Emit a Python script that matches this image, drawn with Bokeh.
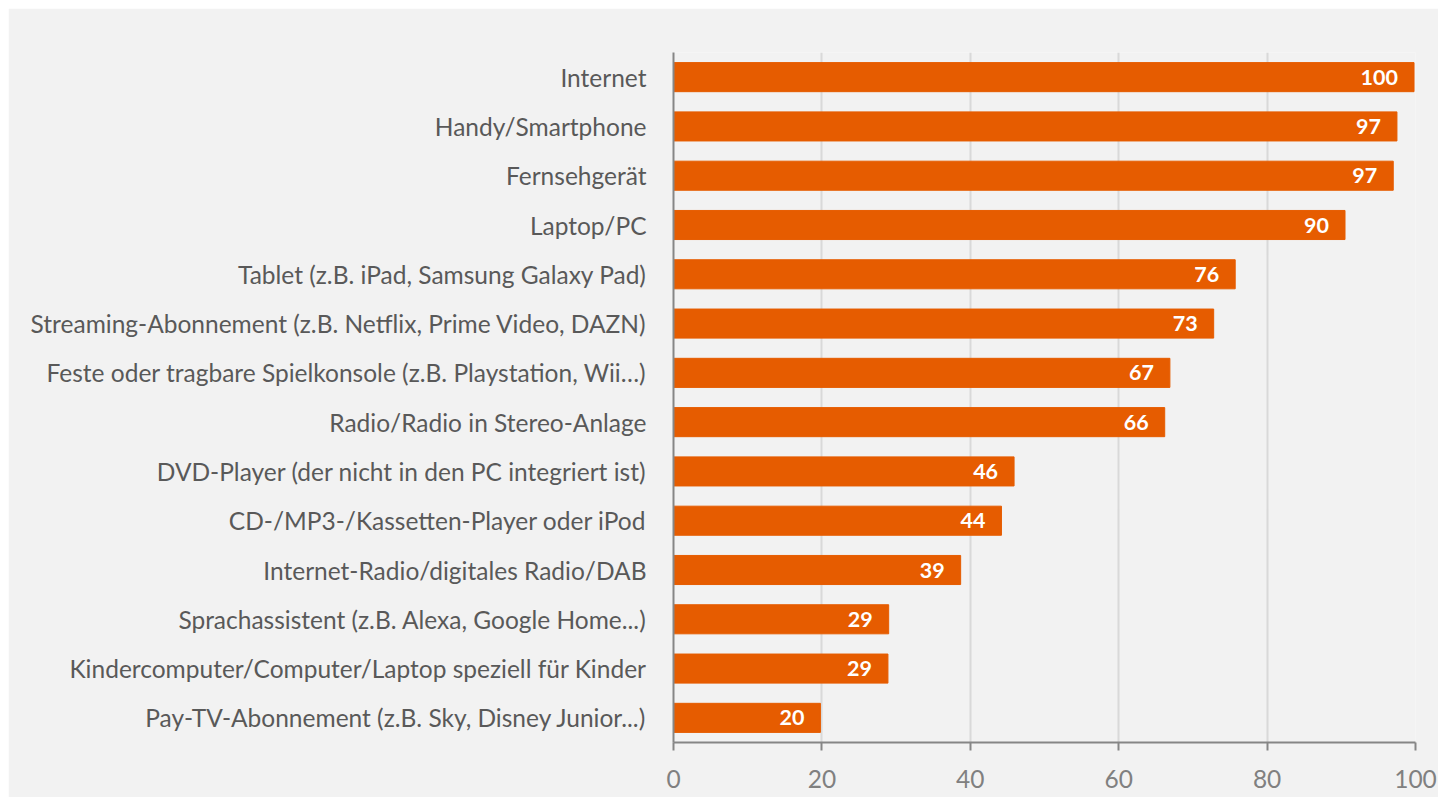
from bokeh.plotting import figure
from bokeh.models import ColumnDataSource, FactorRange, FixedTicker
from bokeh.core.properties import value
from bokeh.embed import file_html
from bokeh.resources import INLINE

categories = [
    "Internet",
    "Handy/Smartphone",
    "Fernsehgerät",
    "Laptop/PC",
    "Tablet (z.B. iPad, Samsung Galaxy Pad)",
    "Streaming-Abonnement (z.B. Netflix, Prime Video, DAZN)",
    "Feste oder tragbare Spielkonsole (z.B. Playstation, Wii…)",
    "Radio/Radio in Stereo-Anlage",
    "DVD-Player (der nicht in den PC integriert ist)",
    "CD-/MP3-/Kassetten-Player oder iPod",
    "Internet-Radio/digitales Radio/DAB",
    "Sprachassistent (z.B. Alexa, Google Home...)",
    "Kindercomputer/Computer/Laptop speziell für Kinder",
    "Pay-TV-Abonnement (z.B. Sky, Disney Junior...)",
]
values = [99.8, 97.5, 97.0, 90.5, 75.7, 72.8, 66.9, 66.2, 45.9, 44.2, 38.7, 29.0, 28.9, 19.8]
labels = ["100", "97", "97", "90", "76", "73", "67", "66", "46", "44", "39", "29", "29", "20"]
x_ticks = [0, 20, 40, 60, 80, 100]

src = ColumnDataSource(dict(cat=categories, val=values, lab=labels))

p = figure(
    width=1430, height=789,
    y_range=FactorRange(*list(reversed(categories))),
    x_range=(0, 100),
    output_backend="svg", toolbar_location=None,
    min_border_left=665, min_border_right=23, min_border_top=44, min_border_bottom=55,
    background_fill_color="#f2f2f2", border_fill_color="#f2f2f2",
)
p.margin = (8, 0, 0, 8)
p.outline_line_color = None

p.hbar(y="cat", right="val", left=0, height=0.59, color="#e65c00", source=src)
p.text(x="val", y="cat", text="lab", source=src, x_offset=-16,
       text_align="right", text_baseline="middle", text_color="white",
       text_font=value("Lato"), text_font_style="bold", text_font_size="21.5px")

p.xaxis.ticker = FixedTicker(ticks=x_ticks)
p.xaxis.axis_line_color = "#868686"
p.xaxis.axis_line_width = 2
p.xaxis.major_tick_line_color = "#868686"
p.xaxis.major_tick_line_width = 2
p.xaxis.major_tick_out = 8
p.xaxis.major_tick_in = 0
p.xaxis.minor_tick_line_color = None
p.xaxis.major_label_text_color = "#808080"
p.xaxis.major_label_text_font = "Lato"
p.xaxis.major_label_text_font_size = "24.5px"
p.xaxis.major_label_standoff = 19

p.yaxis.axis_line_color = "#868686"
p.yaxis.axis_line_width = 2
p.yaxis.major_tick_line_color = None
p.yaxis.minor_tick_line_color = None
p.yaxis.major_label_text_color = "#595959"
p.yaxis.major_label_text_font = "Lato"
p.yaxis.major_label_text_font_size = "24.5px"
p.yaxis.major_label_standoff = 21

p.xgrid.grid_line_color = "#d9d9d9"
p.xgrid.grid_line_width = 2
p.ygrid.grid_line_color = None

open("out.html", "w").write(file_html(p, INLINE))
